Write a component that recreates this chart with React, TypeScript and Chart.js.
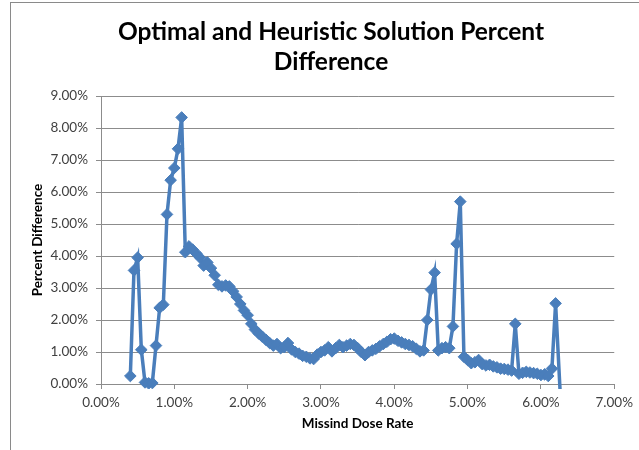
import React, { useEffect, useRef } from "react";
import { Chart, registerables } from "chart.js";

Chart.register(...registerables);

// Missed dose rate (%) for each run
const missedDoseRate = [
  0.40, 0.45, 0.50, 0.55, 0.60, 0.65, 0.70, 0.75, 0.80, 0.85,
  0.90, 0.95, 1.00, 1.05, 1.10, 1.15, 1.20, 1.25, 1.30, 1.35,
  1.40, 1.45, 1.50, 1.55, 1.60, 1.65, 1.70, 1.75, 1.80, 1.85,
  1.90, 1.95, 2.00, 2.05, 2.10, 2.15, 2.20, 2.25, 2.30, 2.35,
  2.40, 2.45, 2.50, 2.55, 2.60, 2.65, 2.70, 2.75, 2.80, 2.85,
  2.90, 2.95, 3.00, 3.05, 3.10, 3.15, 3.20, 3.25, 3.30, 3.35,
  3.40, 3.45, 3.50, 3.55, 3.60, 3.65, 3.70, 3.75, 3.80, 3.85,
  3.90, 3.95, 4.00, 4.05, 4.10, 4.15, 4.20, 4.25, 4.30, 4.35,
  4.40, 4.45, 4.50, 4.55, 4.60, 4.65, 4.70, 4.75, 4.80, 4.85,
  4.90, 4.95, 5.00, 5.05, 5.10, 5.15, 5.20, 5.25, 5.30, 5.35,
  5.40, 5.45, 5.50, 5.55, 5.60, 5.65, 5.70, 5.75, 5.80, 5.85,
  5.90, 5.95, 6.00, 6.05, 6.10, 6.15, 6.20, 6.27,
];

// Percent difference between optimal and heuristic solutions (%)
const percentDifference = [
  0.25, 3.55, 3.95, 1.07, 0.05, 0.02, 0.03, 1.20, 2.38, 2.48,
  5.30, 6.37, 6.75, 7.35, 8.33, 4.12, 4.30, 4.20, 4.08, 3.95,
  3.70, 3.80, 3.62, 3.40, 3.10, 3.05, 3.08, 3.05, 2.90, 2.72,
  2.50, 2.30, 2.15, 1.88, 1.70, 1.58, 1.48, 1.38, 1.28, 1.20,
  1.25, 1.12, 1.15, 1.28, 1.08, 1.00, 0.95, 0.88, 0.85, 0.80,
  0.78, 0.92, 1.00, 1.05, 1.15, 1.02, 1.12, 1.22, 1.15, 1.20,
  1.25, 1.22, 1.12, 1.00, 0.90, 1.00, 1.05, 1.10, 1.18, 1.25,
  1.32, 1.40, 1.42, 1.35, 1.30, 1.25, 1.22, 1.18, 1.10, 1.02,
  1.05, 2.00, 2.95, 3.48, 1.05, 1.12, 1.15, 1.12, 1.80, 4.38,
  5.70, 0.85, 0.75, 0.65, 0.68, 0.75, 0.62, 0.58, 0.60, 0.55,
  0.52, 0.48, 0.47, 0.45, 0.42, 1.88, 0.32, 0.35, 0.38, 0.36,
  0.34, 0.32, 0.28, 0.30, 0.25, 0.48, 2.52, -0.60,
];

const titleLines = ["Optimal and Heuristic Solution Percent", "Difference"];
const xAxisTitle = "Missind Dose Rate";
const yAxisTitle = "Percent Difference";

const SERIES_COLOR = "#4a7ebb";
const GRID_COLOR = "#8c8c8c";
const TICK_COLOR = "#404040";
const FONT = "Lato, 'Open Sans', sans-serif";

// Two-line chart title, centred over the whole chart object
const chartTitle = {
  id: "chartTitle",
  afterDraw(chart: Chart) {
    const ctx = chart.ctx;
    ctx.save();
    ctx.fillStyle = "#000000";
    ctx.font = `bold 24.5px ${FONT}`;
    ctx.textAlign = "center";
    ctx.textBaseline = "middle";
    titleLines.forEach((line, i) => {
      ctx.fillText(line, 331, 32 + i * 30);
    });
    ctx.restore();
  },
};

export default function App() {
  const canvasRef = useRef<HTMLCanvasElement | null>(null);

  useEffect(() => {
    const canvas = canvasRef.current;
    if (!canvas) return;

    const points = missedDoseRate.map((x, i) => ({ x, y: percentDifference[i] }));
    const pct = (v: number | string) => Number(v).toFixed(2) + "%";

    const chart = new Chart(canvas, {
      type: "scatter",
      data: {
        datasets: [
          {
            data: points,
            showLine: true,
            borderColor: SERIES_COLOR,
            backgroundColor: SERIES_COLOR,
            borderWidth: 3.5,
            pointStyle: "rectRot",
            pointRadius: 5.8,
            pointBorderWidth: 1,
            pointBackgroundColor: SERIES_COLOR,
            pointBorderColor: SERIES_COLOR,
            tension: 0,
            clip: { left: 10, top: 10, right: 10, bottom: 5 },
          },
        ],
      },
      options: {
        responsive: false,
        animation: false,
        layout: { padding: { top: 96, right: 22, bottom: 0, left: 0 } },
        plugins: {
          legend: { display: false },
          tooltip: { enabled: false },
          title: { display: false },
        },
        scales: {
          x: {
            type: "linear",
            min: 0,
            max: 7,
            afterFit: (scale: any) => {
              scale.height = 66;
            },
            ticks: {
              stepSize: 1,
              color: TICK_COLOR,
              font: { family: FONT, size: 13.5 },
              padding: 6,
              maxRotation: 0,
              callback: (v: number | string) => pct(v),
            },
            grid: {
              drawOnChartArea: false,
              drawTicks: true,
              tickLength: 5,
              color: GRID_COLOR,
            },
            border: { display: true, color: GRID_COLOR, width: 1 },
            title: {
              display: true,
              text: xAxisTitle,
              color: "#000000",
              font: { family: FONT, size: 13.5, weight: "bold" },
              padding: { top: 4, bottom: 18 },
            },
          },
          y: {
            type: "linear",
            min: 0,
            max: 9,
            afterFit: (scale: any) => {
              scale.width = 101;
            },
            ticks: {
              stepSize: 1,
              color: TICK_COLOR,
              font: { family: FONT, size: 13.5 },
              padding: 8,
              callback: (v: number | string) => pct(v),
            },
            grid: {
              drawTicks: true,
              tickLength: 5,
              color: GRID_COLOR,
            },
            border: { display: true, color: GRID_COLOR, width: 1 },
            title: {
              display: true,
              text: yAxisTitle,
              color: "#000000",
              font: { family: FONT, size: 13.5, weight: "bold" },
              padding: { top: 30, bottom: 4 },
            },
          },
        },
      },
      plugins: [chartTitle],
    });

    return () => chart.destroy();
  }, []);

  return (
    <div
      style={{
        position: "fixed",
        left: 0,
        top: 0,
        width: 639,
        height: 450,
        background: "#ffffff",
      }}
    >
      <canvas ref={canvasRef} width={639} height={450} style={{ display: "block" }} />
      <div
        style={{
          position: "absolute",
          left: 10,
          top: 2,
          width: 629,
          height: 448,
          borderLeft: "1px solid #8a8a8a",
          borderTop: "1px solid #8a8a8a",
          pointerEvents: "none",
        }}
      />
    </div>
  );
}
